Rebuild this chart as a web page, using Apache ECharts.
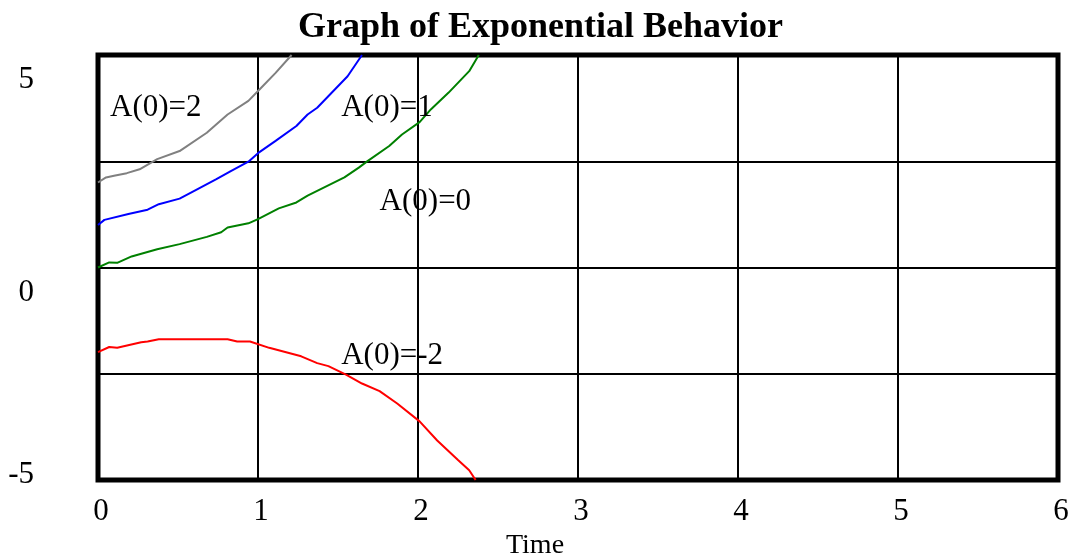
<!DOCTYPE html>
<html>
<head>
<meta charset="utf-8">
<script src="https://cdn.jsdelivr.net/npm/echarts@6/dist/echarts.min.js"></script>
<style>
  html, body { margin: 0; padding: 0; background: #fff; }
  #main { width: 1081px; height: 559px; }
</style>
</head>
<body>
<div id="main"></div>
<script>
// values
var grayT = [0, 0.05, 0.1, 0.18, 0.26, 0.37, 0.51, 0.68, 0.81, 0.94, 1.02, 1.11, 1.21];
var grayA = [2.0, 2.12, 2.16, 2.22, 2.31, 2.55, 2.74, 3.17, 3.6, 3.92, 4.23, 4.58, 5.0];

var blueT = [0, 0.04, 0.19, 0.31, 0.38, 0.51, 0.59, 0.74, 0.83, 0.94, 1.0, 1.11, 1.24, 1.31, 1.37, 1.56, 1.65];
var blueA = [1.0, 1.12, 1.26, 1.36, 1.49, 1.62, 1.78, 2.08, 2.27, 2.49, 2.69, 2.98, 3.33, 3.6, 3.76, 4.5, 5.0];

var greenT = [0, 0.07, 0.12, 0.21, 0.37, 0.51, 0.68, 0.77, 0.81, 0.94, 1.0, 1.13, 1.24, 1.31, 1.54, 1.63, 1.68, 1.82, 1.9, 2.01, 2.08, 2.19, 2.32, 2.38];
var greenA = [0, 0.12, 0.11, 0.26, 0.43, 0.55, 0.72, 0.83, 0.94, 1.04, 1.14, 1.39, 1.53, 1.69, 2.12, 2.35, 2.49, 2.86, 3.13, 3.42, 3.72, 4.11, 4.62, 5.0];

var redT = [0, 0.07, 0.12, 0.27, 0.31, 0.38, 0.81, 0.87, 0.95, 1.07, 1.27, 1.37, 1.44, 1.55, 1.65, 1.76, 1.87, 2.01, 2.12, 2.25, 2.32, 2.36];
var redA = [-1.99, -1.87, -1.89, -1.76, -1.74, -1.69, -1.69, -1.74, -1.74, -1.89, -2.09, -2.25, -2.32, -2.52, -2.73, -2.91, -3.2, -3.62, -4.07, -4.53, -4.77, -5.0];

var xTicks = [0, 1, 2, 3, 4, 5, 6];
var yLabels = { '5': '5', '0': '0', '-5': '-5' };

// label text and where it sits (time, value)
var notes = [
  { name: 'A(0)=2', at: [0.075, 3.76] },
  { name: 'A(0)=1', at: [1.52, 3.76] },
  { name: 'A(0)=0', at: [1.76, 1.54] },
  { name: 'A(0)=-2', at: [1.52, -2.08] }
];

var serif = '"Liberation Serif", "DejaVu Serif", serif';

function pairs(t, a) {
  return t.map(function (v, i) { return [v, a[i]]; });
}

function makeSeries(name, t, a, color, note) {
  return {
    name: name,
    type: 'line',
    data: pairs(t, a),
    showSymbol: false,
    clip: true,
    lineStyle: { color: color, width: 2 },
    itemStyle: { color: color },
    markPoint: {
      symbol: 'circle',
      symbolSize: 0,
      silent: true,
      label: {
        show: true,
        position: 'right',
        distance: 0,
        formatter: '{b}',
        color: '#000',
        fontFamily: serif,
        fontSize: 31
      },
      data: [{ name: note.name, coord: note.at }]
    }
  };
}

var myChart = echarts.init(document.getElementById('main'));
var option = {
  animation: false,
  backgroundColor: '#fff',
  title: {
    text: 'Graph of Exponential Behavior',
    left: 'center',
    top: 5,
    textStyle: { fontFamily: serif, fontWeight: 'bold', fontSize: 36, color: '#000' }
  },
  grid: {
    left: 98,
    right: 23,
    top: 55,
    bottom: 79,
    containLabel: false,
    outerBoundsMode: 'none',
    show: true,
    borderColor: '#000',
    borderWidth: 5,
    backgroundColor: 'transparent'
  },
  xAxis: {
    type: 'value',
    min: 0,
    max: 6,
    interval: 1,
    name: 'Time',
    nameLocation: 'middle',
    nameGap: 45,
    nameTextStyle: { fontFamily: serif, fontSize: 28, color: '#000', padding: [0, 86, 0, 0] },
    axisLine: { show: false },
    axisTick: { show: false },
    axisLabel: {
      margin: 16,
      fontFamily: serif,
      fontSize: 31,
      color: '#000',
      padding: [0, 0, 0, 6],
      formatter: function (v) { return xTicks.indexOf(v) >= 0 ? String(v) : ''; }
    },
    splitLine: { show: true, lineStyle: { color: '#000', width: 2 } }
  },
  yAxis: {
    type: 'value',
    min: -5,
    max: 5,
    interval: 2.5,
    axisLine: { show: false },
    axisTick: { show: false },
    axisLabel: {
      margin: 64,
      fontFamily: serif,
      fontSize: 31,
      color: '#000',
      formatter: function (v) {
        var s = yLabels[String(v)];
        if (!s) return '';
        return v < 0 ? '{lo|' + s + '}' : '{hi|' + s + '}';
      },
      rich: {
        hi: { fontFamily: serif, fontSize: 31, color: '#000', padding: [50, 0, 0, 0] },
        lo: { fontFamily: serif, fontSize: 31, color: '#000', padding: [0, 0, 11, 0] }
      }
    },
    splitLine: { show: true, lineStyle: { color: '#000', width: 2 } }
  },
  series: [
    makeSeries('A(0)=2', grayT, grayA, '#808080', notes[0]),
    makeSeries('A(0)=1', blueT, blueA, '#0000ff', notes[1]),
    makeSeries('A(0)=0', greenT, greenA, '#008000', notes[2]),
    makeSeries('A(0)=-2', redT, redA, '#ff0000', notes[3])
  ]
};
myChart.setOption(option);
</script>
</body>
</html>
